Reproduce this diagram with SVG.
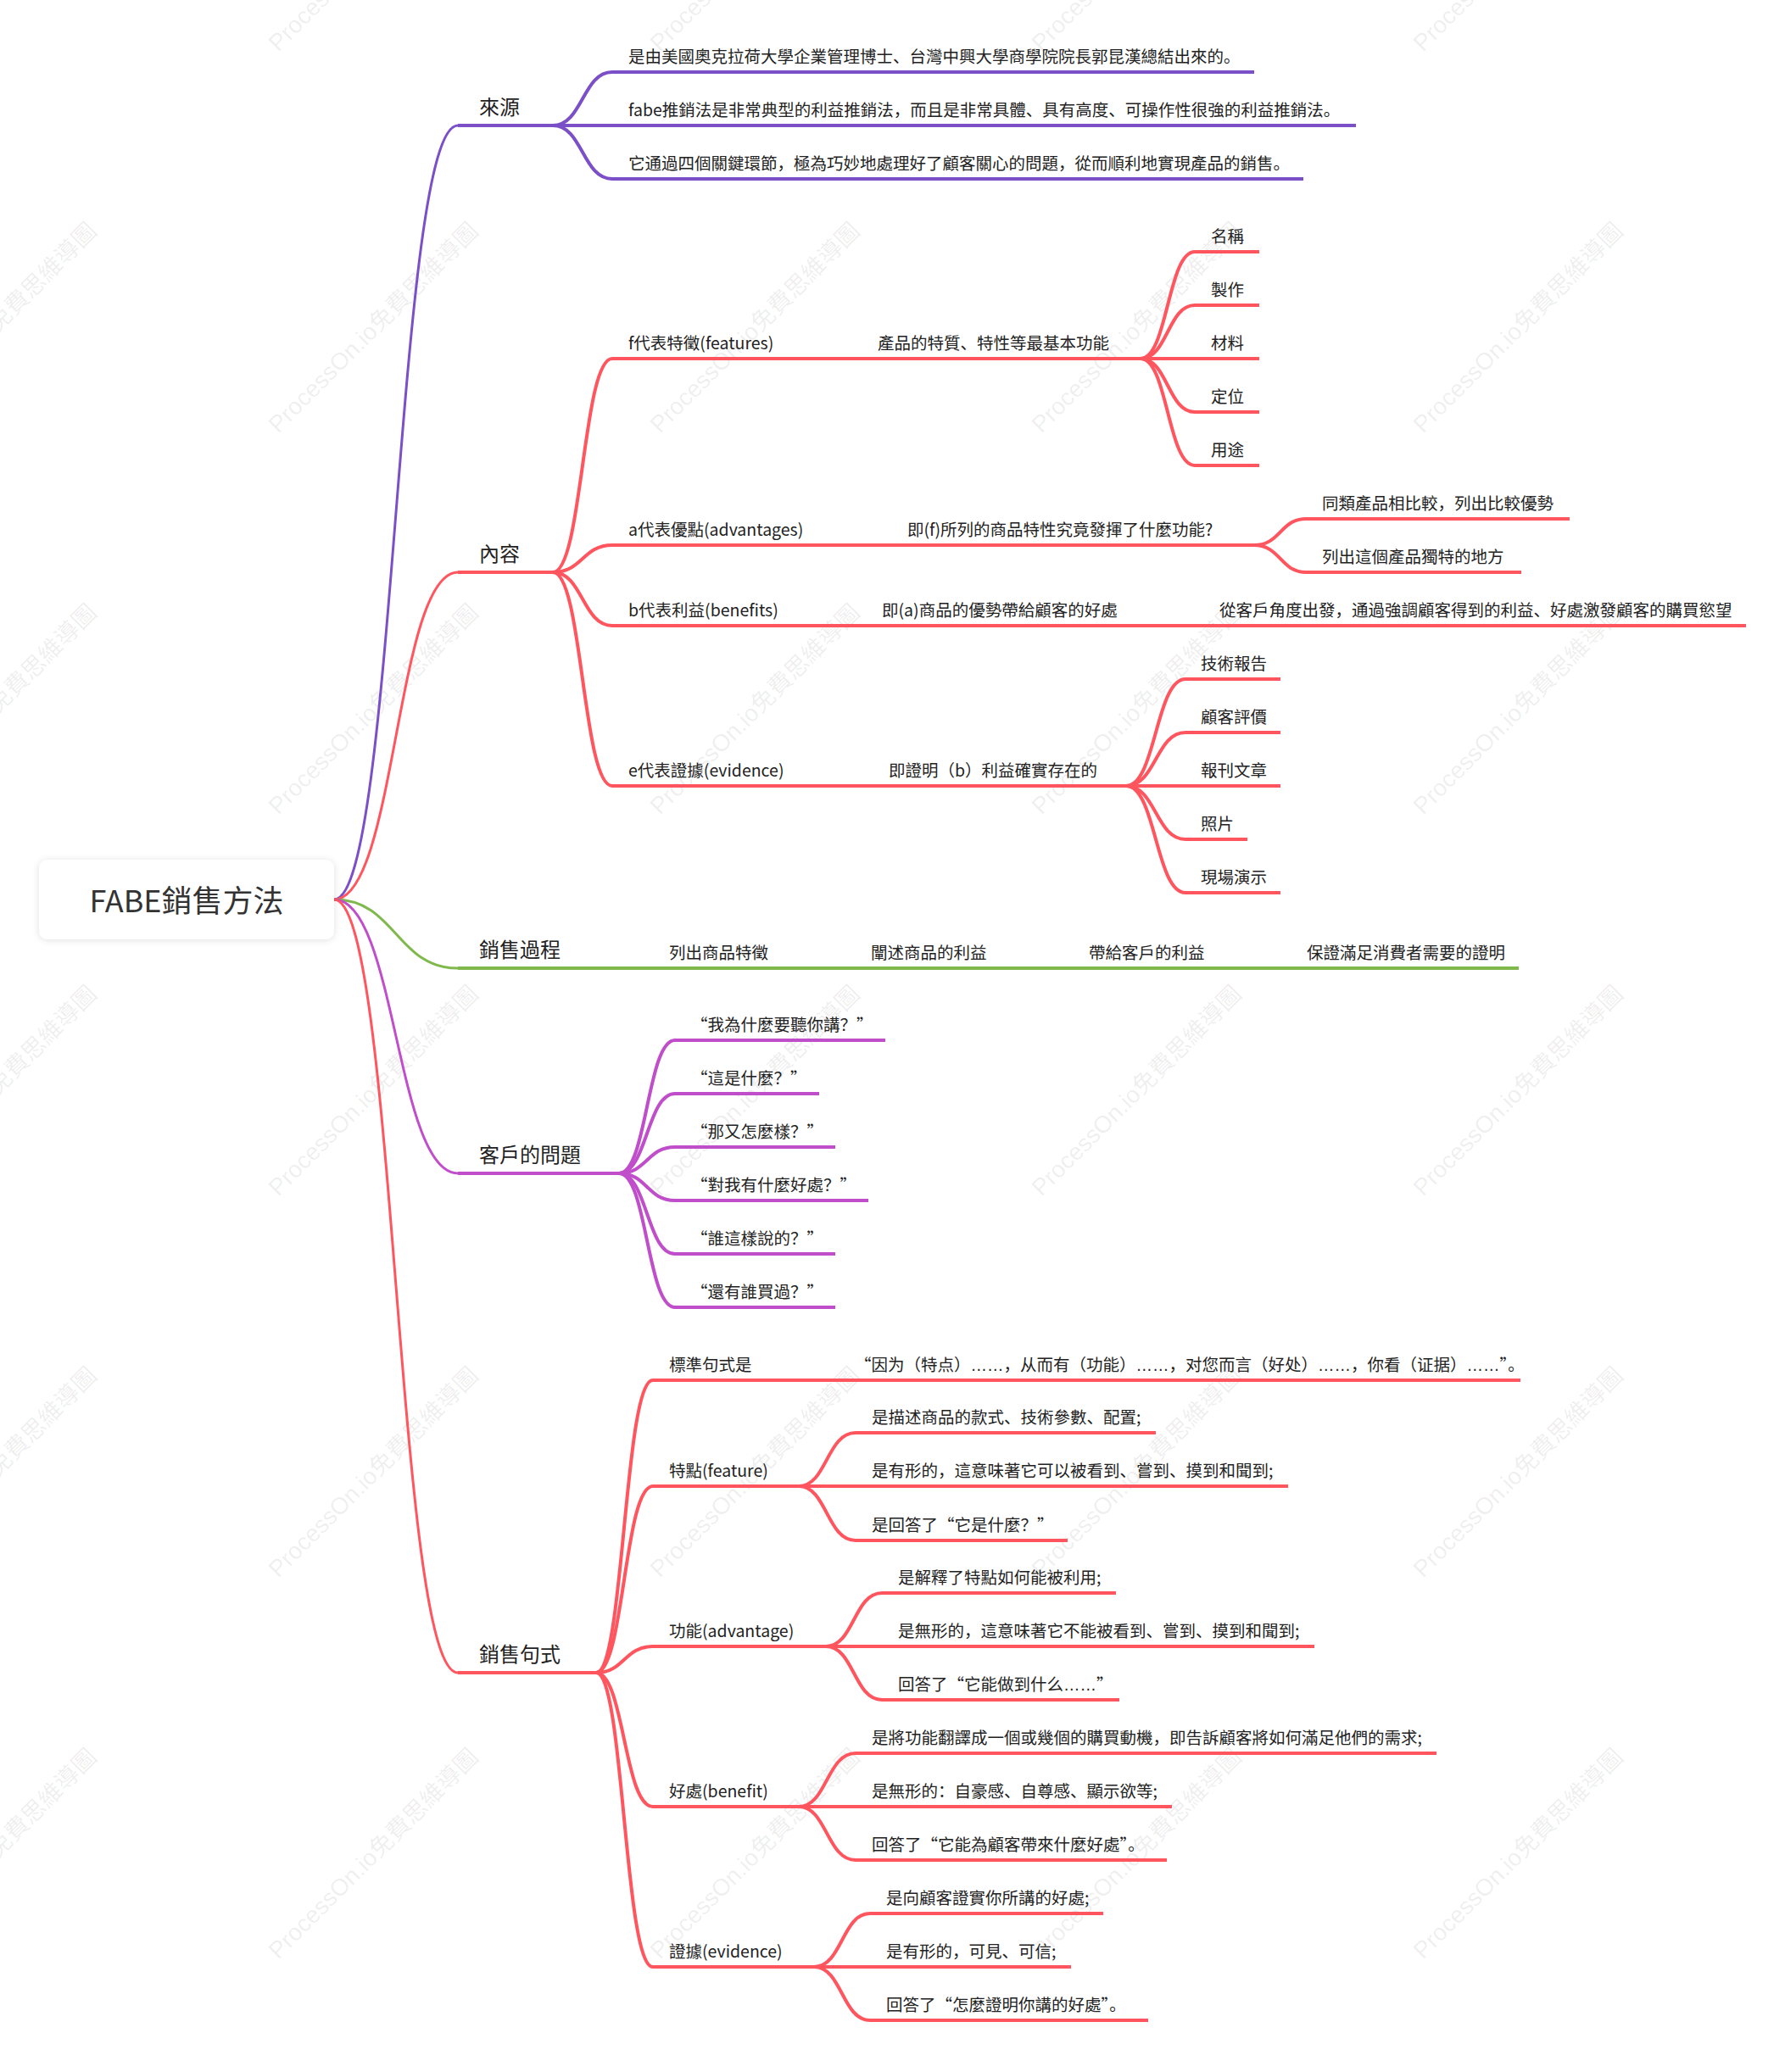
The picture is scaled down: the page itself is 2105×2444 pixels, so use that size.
<svg xmlns="http://www.w3.org/2000/svg" width="2105" height="2444" viewBox="0 0 2105 2444">
<defs>
<style>
.t{font-family:"Noto Sans CJK SC","Noto Sans CJK TC","Noto Sans",sans-serif;fill:#222}
.s{font-size:19.5px}
.m{font-size:24px}
.el{font-family:"Liberation Sans",sans-serif}
.wm{font-family:"Liberation Sans","Noto Sans CJK SC",sans-serif;font-size:28px;fill:#000;fill-opacity:.075}
.ln{fill:none;stroke-width:4;stroke-linecap:butt}
.cv{fill:none;stroke-width:4;stroke-linecap:round}
.rc{fill:none;stroke-width:3;stroke-linecap:round}
.pu{stroke:#7B4FC8}
.rd{stroke:#FF555E}
.gr{stroke:#7FB84B}
.mg{stroke:#C04ECA}
</style>
<filter id="sh" x="-10%" y="-20%" width="120%" height="140%">
<feDropShadow dx="0" dy="1" stdDeviation="4" flood-color="#000" flood-opacity="0.12"/>
</filter>
</defs>
<rect width="2105" height="2444" fill="#fff"/>
<g id="watermarks">
<text class="wm" text-anchor="middle" x="-10" y="-54" transform="rotate(-45 -10 -64)">ProcessOn.io免費思維導圖</text>
<text class="wm" text-anchor="middle" x="440" y="-54" transform="rotate(-45 440 -64)">ProcessOn.io免費思維導圖</text>
<text class="wm" text-anchor="middle" x="890" y="-54" transform="rotate(-45 890 -64)">ProcessOn.io免費思維導圖</text>
<text class="wm" text-anchor="middle" x="1340" y="-54" transform="rotate(-45 1340 -64)">ProcessOn.io免費思維導圖</text>
<text class="wm" text-anchor="middle" x="1790" y="-54" transform="rotate(-45 1790 -64)">ProcessOn.io免費思維導圖</text>
<text class="wm" text-anchor="middle" x="-10" y="396" transform="rotate(-45 -10 386)">ProcessOn.io免費思維導圖</text>
<text class="wm" text-anchor="middle" x="440" y="396" transform="rotate(-45 440 386)">ProcessOn.io免費思維導圖</text>
<text class="wm" text-anchor="middle" x="890" y="396" transform="rotate(-45 890 386)">ProcessOn.io免費思維導圖</text>
<text class="wm" text-anchor="middle" x="1340" y="396" transform="rotate(-45 1340 386)">ProcessOn.io免費思維導圖</text>
<text class="wm" text-anchor="middle" x="1790" y="396" transform="rotate(-45 1790 386)">ProcessOn.io免費思維導圖</text>
<text class="wm" text-anchor="middle" x="-10" y="846" transform="rotate(-45 -10 836)">ProcessOn.io免費思維導圖</text>
<text class="wm" text-anchor="middle" x="440" y="846" transform="rotate(-45 440 836)">ProcessOn.io免費思維導圖</text>
<text class="wm" text-anchor="middle" x="890" y="846" transform="rotate(-45 890 836)">ProcessOn.io免費思維導圖</text>
<text class="wm" text-anchor="middle" x="1340" y="846" transform="rotate(-45 1340 836)">ProcessOn.io免費思維導圖</text>
<text class="wm" text-anchor="middle" x="1790" y="846" transform="rotate(-45 1790 836)">ProcessOn.io免費思維導圖</text>
<text class="wm" text-anchor="middle" x="-10" y="1296" transform="rotate(-45 -10 1286)">ProcessOn.io免費思維導圖</text>
<text class="wm" text-anchor="middle" x="440" y="1296" transform="rotate(-45 440 1286)">ProcessOn.io免費思維導圖</text>
<text class="wm" text-anchor="middle" x="890" y="1296" transform="rotate(-45 890 1286)">ProcessOn.io免費思維導圖</text>
<text class="wm" text-anchor="middle" x="1340" y="1296" transform="rotate(-45 1340 1286)">ProcessOn.io免費思維導圖</text>
<text class="wm" text-anchor="middle" x="1790" y="1296" transform="rotate(-45 1790 1286)">ProcessOn.io免費思維導圖</text>
<text class="wm" text-anchor="middle" x="-10" y="1746" transform="rotate(-45 -10 1736)">ProcessOn.io免費思維導圖</text>
<text class="wm" text-anchor="middle" x="440" y="1746" transform="rotate(-45 440 1736)">ProcessOn.io免費思維導圖</text>
<text class="wm" text-anchor="middle" x="890" y="1746" transform="rotate(-45 890 1736)">ProcessOn.io免費思維導圖</text>
<text class="wm" text-anchor="middle" x="1340" y="1746" transform="rotate(-45 1340 1736)">ProcessOn.io免費思維導圖</text>
<text class="wm" text-anchor="middle" x="1790" y="1746" transform="rotate(-45 1790 1736)">ProcessOn.io免費思維導圖</text>
<text class="wm" text-anchor="middle" x="-10" y="2196" transform="rotate(-45 -10 2186)">ProcessOn.io免費思維導圖</text>
<text class="wm" text-anchor="middle" x="440" y="2196" transform="rotate(-45 440 2186)">ProcessOn.io免費思維導圖</text>
<text class="wm" text-anchor="middle" x="890" y="2196" transform="rotate(-45 890 2186)">ProcessOn.io免費思維導圖</text>
<text class="wm" text-anchor="middle" x="1340" y="2196" transform="rotate(-45 1340 2186)">ProcessOn.io免費思維導圖</text>
<text class="wm" text-anchor="middle" x="1790" y="2196" transform="rotate(-45 1790 2186)">ProcessOn.io免費思維導圖</text>
</g>
<g id="connectors">
<path class="rc pu" d="M394 1061 C467 1061 467 148 540 148"/>
<path class="rc rd" d="M394 1061 C467 1061 467 675 540 675"/>
<path class="rc gr" d="M394 1061 C467 1061 467 1142 540 1142"/>
<path class="rc mg" d="M394 1061 C467 1061 467 1384 540 1384"/>
<path class="rc rd" d="M394 1061 C467 1061 467 1973 540 1973"/>
<path class="cv pu" d="M652 148 C687 148 687 85 722 85"/>
<path class="cv pu" d="M652 148 L722 148"/>
<path class="cv pu" d="M652 148 C687 148 687 211 722 211"/>
<path class="cv rd" d="M652 675 C687 675 687 423 722 423"/>
<path class="cv rd" d="M652 675 C687 675 687 643 722 643"/>
<path class="cv rd" d="M652 675 C687 675 687 738 722 738"/>
<path class="cv rd" d="M652 675 C687 675 687 927 722 927"/>
<path class="ln rd" d="M931 423 L1016 423"/>
<path class="cv rd" d="M1345 423 C1377 423 1377 297 1409 297"/>
<path class="cv rd" d="M1345 423 C1377 423 1377 360 1409 360"/>
<path class="cv rd" d="M1345 423 L1409 423"/>
<path class="cv rd" d="M1345 423 C1377 423 1377 486 1409 486"/>
<path class="cv rd" d="M1345 423 C1377 423 1377 549 1409 549"/>
<path class="ln rd" d="M967 643 L1051 643"/>
<path class="cv rd" d="M1479 643 C1510 643 1510 612 1540 612"/>
<path class="cv rd" d="M1479 643 C1510 643 1510 675 1540 675"/>
<path class="ln rd" d="M938 738 L1021 738"/>
<path class="ln rd" d="M1336 738 L1419 738"/>
<path class="ln rd" d="M943 927 L1029 927"/>
<path class="cv rd" d="M1328 927 C1363 927 1363 801 1398 801"/>
<path class="cv rd" d="M1328 927 C1363 927 1363 864 1398 864"/>
<path class="cv rd" d="M1328 927 L1398 927"/>
<path class="cv rd" d="M1328 927 C1363 927 1363 990 1398 990"/>
<path class="cv rd" d="M1328 927 C1363 927 1363 1053 1398 1053"/>
<path class="ln gr" d="M680 1142 L770 1142"/>
<path class="ln gr" d="M925 1142 L1008 1142"/>
<path class="ln gr" d="M1183 1142 L1265 1142"/>
<path class="ln gr" d="M1440 1142 L1522 1142"/>
<path class="cv mg" d="M730 1384 C763 1384 763 1227 796 1227"/>
<path class="cv mg" d="M730 1384 C763 1384 763 1290 796 1290"/>
<path class="cv mg" d="M730 1384 C763 1384 763 1353 796 1353"/>
<path class="cv mg" d="M730 1384 C763 1384 763 1416 796 1416"/>
<path class="cv mg" d="M730 1384 C763 1384 763 1479 796 1479"/>
<path class="cv mg" d="M730 1384 C763 1384 763 1542 796 1542"/>
<path class="cv rd" d="M703 1973 C736 1973 736 1628 770 1628"/>
<path class="cv rd" d="M703 1973 C736 1973 736 1753 770 1753"/>
<path class="cv rd" d="M703 1973 C736 1973 736 1942 770 1942"/>
<path class="cv rd" d="M703 1973 C736 1973 736 2131 770 2131"/>
<path class="cv rd" d="M703 1973 C736 1973 736 2320 770 2320"/>
<path class="ln rd" d="M905 1628 L989 1628"/>
<path class="cv rd" d="M942 1753 C975 1753 975 1690 1009 1690"/>
<path class="cv rd" d="M942 1753 L1009 1753"/>
<path class="cv rd" d="M942 1753 C975 1753 975 1817 1009 1817"/>
<path class="cv rd" d="M974 1942 C1007 1942 1007 1879 1040 1879"/>
<path class="cv rd" d="M974 1942 L1040 1942"/>
<path class="cv rd" d="M974 1942 C1007 1942 1007 2005 1040 2005"/>
<path class="cv rd" d="M942 2131 C975 2131 975 2068 1009 2068"/>
<path class="cv rd" d="M942 2131 L1009 2131"/>
<path class="cv rd" d="M942 2131 C975 2131 975 2194 1009 2194"/>
<path class="cv rd" d="M960 2320 C993 2320 993 2257 1026 2257"/>
<path class="cv rd" d="M960 2320 L1026 2320"/>
<path class="cv rd" d="M960 2320 C993 2320 993 2383 1026 2383"/>
</g>
<g id="root">
<rect x="46" y="1014" width="348" height="94" rx="10" fill="#fff" filter="url(#sh)"/>
<text class="t" x="220" y="1076" text-anchor="middle" font-size="36" style="fill:#333">FABE銷售方法</text>
</g>
<g id="n-laiyuan"><path class="ln pu" d="M540 148 L652 148"/><text class="t m" x="565" y="135">來源</text></g>
<g id="n-ly1"><path class="ln pu" d="M722 85 L1479 85"/><text class="t s" x="741" y="74">是由美國奧克拉荷大學企業管理博士、台灣中興大學商學院院長郭昆漢總結出來的。</text></g>
<g id="n-ly2"><path class="ln pu" d="M722 148 L1599 148"/><text class="t s" x="741" y="137">fabe推銷法是非常典型的利益推銷法，而且是非常具體、具有高度、可操作性很強的利益推銷法。</text></g>
<g id="n-ly3"><path class="ln pu" d="M722 211 L1537 211"/><text class="t s" x="741" y="200">它通過四個關鍵環節，極為巧妙地處理好了顧客關心的問題，從而順利地實現產品的銷售。</text></g>

<g id="n-neirong"><path class="ln rd" d="M540 675 L652 675"/><text class="t m" x="565" y="662">內容</text></g>
<g id="n-f"><path class="ln rd" d="M722 423 L931 423"/><text class="t s" x="741" y="412">f代表特徵(features)</text></g>
<g id="n-f1"><path class="ln rd" d="M1016 423 L1345 423"/><text class="t s" x="1035" y="412">產品的特質、特性等最基本功能</text></g>
<g id="n-f1a"><path class="ln rd" d="M1409 297 L1485 297"/><text class="t s" x="1428" y="286">名稱</text></g>
<g id="n-f1b"><path class="ln rd" d="M1409 360 L1485 360"/><text class="t s" x="1428" y="349">製作</text></g>
<g id="n-f1c"><path class="ln rd" d="M1409 423 L1485 423"/><text class="t s" x="1428" y="412">材料</text></g>
<g id="n-f1d"><path class="ln rd" d="M1409 486 L1485 486"/><text class="t s" x="1428" y="475">定位</text></g>
<g id="n-f1e"><path class="ln rd" d="M1409 549 L1485 549"/><text class="t s" x="1428" y="538">用途</text></g>
<g id="n-a"><path class="ln rd" d="M722 643 L967 643"/><text class="t s" x="741" y="632">a代表優點(advantages)</text></g>
<g id="n-a1"><path class="ln rd" d="M1051 643 L1479 643"/><text class="t s" x="1070" y="632">即(f)所列的商品特性究竟發揮了什麼功能?</text></g>
<g id="n-a1a"><path class="ln rd" d="M1540 612 L1851 612"/><text class="t s" x="1559" y="601">同類產品相比較，列出比較優勢</text></g>
<g id="n-a1b"><path class="ln rd" d="M1540 675 L1794 675"/><text class="t s" x="1559" y="664">列出這個產品獨特的地方</text></g>
<g id="n-b"><path class="ln rd" d="M722 738 L938 738"/><text class="t s" x="741" y="727">b代表利益(benefits)</text></g>
<g id="n-b1"><path class="ln rd" d="M1021 738 L1336 738"/><text class="t s" x="1040" y="727">即(a)商品的優勢帶給顧客的好處</text></g>
<g id="n-b2"><path class="ln rd" d="M1419 738 L2059 738"/><text class="t s" x="1438" y="727">從客戶角度出發，通過強調顧客得到的利益、好處激發顧客的購買慾望</text></g>
<g id="n-e"><path class="ln rd" d="M722 927 L943 927"/><text class="t s" x="741" y="916">e代表證據(evidence)</text></g>
<g id="n-e1"><path class="ln rd" d="M1029 927 L1328 927"/><text class="t s" x="1048" y="916">即證明（b）利益確實存在的</text></g>
<g id="n-e1a"><path class="ln rd" d="M1398 801 L1510 801"/><text class="t s" x="1416" y="790">技術報告</text></g>
<g id="n-e1b"><path class="ln rd" d="M1398 864 L1510 864"/><text class="t s" x="1416" y="853">顧客評價</text></g>
<g id="n-e1c"><path class="ln rd" d="M1398 927 L1510 927"/><text class="t s" x="1416" y="916">報刊文章</text></g>
<g id="n-e1d"><path class="ln rd" d="M1398 990 L1471 990"/><text class="t s" x="1416" y="979">照片</text></g>
<g id="n-e1e"><path class="ln rd" d="M1398 1053 L1510 1053"/><text class="t s" x="1416" y="1042">現場演示</text></g>

<g id="n-guocheng"><path class="ln gr" d="M540 1142 L680 1142"/><text class="t m" x="565" y="1129">銷售過程</text></g>
<g id="n-g1"><path class="ln gr" d="M770 1142 L925 1142"/><text class="t s" x="789" y="1131">列出商品特徵</text></g>
<g id="n-g2"><path class="ln gr" d="M1008 1142 L1183 1142"/><text class="t s" x="1027" y="1131">闡述商品的利益</text></g>
<g id="n-g3"><path class="ln gr" d="M1265 1142 L1440 1142"/><text class="t s" x="1284" y="1131">帶給客戶的利益</text></g>
<g id="n-g4"><path class="ln gr" d="M1522 1142 L1791 1142"/><text class="t s" x="1541" y="1131">保證滿足消費者需要的證明</text></g>

<g id="n-wenti"><path class="ln mg" d="M540 1384 L730 1384"/><text class="t m" x="565" y="1371">客戶的問題</text></g>
<g id="n-w1"><path class="ln mg" d="M796 1227 L1044 1227"/><text class="t s" x="815" y="1216">“我為什麼要聽你講？”</text></g>
<g id="n-w2"><path class="ln mg" d="M796 1290 L966 1290"/><text class="t s" x="815" y="1279">“這是什麼？”</text></g>
<g id="n-w3"><path class="ln mg" d="M796 1353 L985 1353"/><text class="t s" x="815" y="1342">“那又怎麼樣？”</text></g>
<g id="n-w4"><path class="ln mg" d="M796 1416 L1024 1416"/><text class="t s" x="815" y="1405">“對我有什麼好處？”</text></g>
<g id="n-w5"><path class="ln mg" d="M796 1479 L985 1479"/><text class="t s" x="815" y="1468">“誰這樣說的？”</text></g>
<g id="n-w6"><path class="ln mg" d="M796 1542 L985 1542"/><text class="t s" x="815" y="1531">“還有誰買過？”</text></g>

<g id="n-jushi"><path class="ln rd" d="M540 1973 L703 1973"/><text class="t m" x="565" y="1960">銷售句式</text></g>
<g id="n-j0"><path class="ln rd" d="M770 1628 L905 1628"/><text class="t s" x="789" y="1617">標準句式是</text></g>
<g id="n-j0a"><path class="ln rd" d="M989 1628 L1793 1628"/><text class="t s" x="1008" y="1617">“因为（特点）<tspan class="el">……</tspan>，从而有（功能）<tspan class="el">……</tspan>，对您而言（好处）<tspan class="el">……</tspan>，你看（证据）<tspan class="el">……</tspan>”。</text></g>
<g id="n-j1"><path class="ln rd" d="M770 1753 L942 1753"/><text class="t s" x="789" y="1742">特點(feature)</text></g>
<g id="n-j1a"><path class="ln rd" d="M1009 1690 L1363 1690"/><text class="t s" x="1028" y="1679">是描述商品的款式、技術參數、配置;</text></g>
<g id="n-j1b"><path class="ln rd" d="M1009 1753 L1519 1753"/><text class="t s" x="1028" y="1742">是有形的，這意味著它可以被看到、嘗到、摸到和聞到;</text></g>
<g id="n-j1c"><path class="ln rd" d="M1009 1817 L1259 1817"/><text class="t s" x="1028" y="1806">是回答了“它是什麼？”</text></g>
<g id="n-j2"><path class="ln rd" d="M770 1942 L974 1942"/><text class="t s" x="789" y="1931">功能(advantage)</text></g>
<g id="n-j2a"><path class="ln rd" d="M1040 1879 L1316 1879"/><text class="t s" x="1059" y="1868">是解釋了特點如何能被利用;</text></g>
<g id="n-j2b"><path class="ln rd" d="M1040 1942 L1550 1942"/><text class="t s" x="1059" y="1931">是無形的，這意味著它不能被看到、嘗到、摸到和聞到;</text></g>
<g id="n-j2c"><path class="ln rd" d="M1040 2005 L1320 2005"/><text class="t s" x="1059" y="1994">回答了“它能做到什么<tspan class="el">……</tspan>”</text></g>
<g id="n-j3"><path class="ln rd" d="M770 2131 L942 2131"/><text class="t s" x="789" y="2120">好處(benefit)</text></g>
<g id="n-j3a"><path class="ln rd" d="M1009 2068 L1694 2068"/><text class="t s" x="1028" y="2057">是將功能翻譯成一個或幾個的購買動機，即告訴顧客將如何滿足他們的需求;</text></g>
<g id="n-j3b"><path class="ln rd" d="M1009 2131 L1382 2131"/><text class="t s" x="1028" y="2120">是無形的：自豪感、自尊感、顯示欲等;</text></g>
<g id="n-j3c"><path class="ln rd" d="M1009 2194 L1376 2194"/><text class="t s" x="1028" y="2183">回答了“它能為顧客帶來什麼好處”。</text></g>
<g id="n-j4"><path class="ln rd" d="M770 2320 L960 2320"/><text class="t s" x="789" y="2309">證據(evidence)</text></g>
<g id="n-j4a"><path class="ln rd" d="M1026 2257 L1301 2257"/><text class="t s" x="1045" y="2246">是向顧客證實你所講的好處;</text></g>
<g id="n-j4b"><path class="ln rd" d="M1026 2320 L1263 2320"/><text class="t s" x="1045" y="2309">是有形的，可見、可信;</text></g>
<g id="n-j4c"><path class="ln rd" d="M1026 2383 L1354 2383"/><text class="t s" x="1045" y="2372">回答了“怎麼證明你講的好處”。</text></g>
</svg>
